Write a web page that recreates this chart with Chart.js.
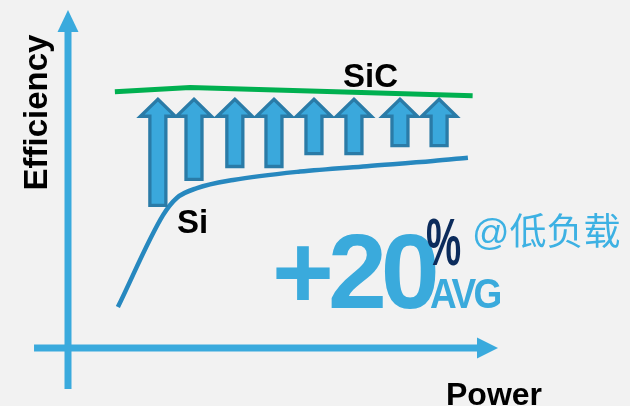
<!DOCTYPE html>
<html>
<head>
<meta charset="utf-8">
<script src="https://cdn.jsdelivr.net/npm/chart.js@4/dist/chart.umd.min.js"></script>
<style>
  html, body { margin: 0; padding: 0; background: #f2f2f2; }
  #wrap { width: 630px; height: 406px; }
</style>
</head>
<body>
<div id="wrap"><canvas id="c" width="630" height="406"></canvas></div>
<script>
// Si efficiency curve (power, efficiency)
const siPower = [11.6, 22.1, 25.3, 30.0, 38.4, 53.95, 69.5, 84.9, 93.0];
const siEff   = [12.1, 39.3, 44.4, 47.3, 49.7, 52.2, 53.8, 55.3, 56.3];
// SiC efficiency line
const sicPower = [10.9, 28.4, 94.1];
const sicEff   = [75.8, 77.1, 74.6];
// Improvement arrows: power position, from (Si level) to (below SiC)
const arrowPower = [20.9, 29.3, 38.8, 47.9, 57.2, 66.5, 77.2, 86.3];
const arrowFrom  = [42.2, 49.9, 53.7, 53.7, 57.5, 57.5, 59.9, 59.9];
const arrowTo    = [73.6, 73.6, 73.6, 73.6, 73.6, 73.6, 73.6, 73.6];
// Labels
const labels = { y: 'Efficiency', x: 'Power', sic: 'SiC', si: 'Si', gain: '+20', pct: '%', avg: 'AVG', note: '@低负载' };

const AXIS = '#3aaadd';
const FONT = '"Liberation Sans", Arial, sans-serif';

const decor = {
  id: 'decor',
  beforeDatasetsDraw(chart) {
    const ctx = chart.ctx, xs = chart.scales.x, ys = chart.scales.y;
    const x0 = xs.getPixelForValue(0), y0 = ys.getPixelForValue(0);
    const xEnd = xs.getPixelForValue(100), yEnd = ys.getPixelForValue(100);
    const xStart = xs.getPixelForValue(-7.9), yStart = ys.getPixelForValue(-12.1);
    ctx.save();
    ctx.strokeStyle = AXIS; ctx.fillStyle = AXIS; ctx.lineWidth = 7;
    // vertical axis
    ctx.beginPath(); ctx.moveTo(x0, yStart); ctx.lineTo(x0, yEnd + 21); ctx.stroke();
    ctx.beginPath(); ctx.moveTo(x0, yEnd); ctx.lineTo(x0 + 10.5, yEnd + 22); ctx.lineTo(x0 - 10.5, yEnd + 22); ctx.closePath(); ctx.fill();
    // horizontal axis
    ctx.beginPath(); ctx.moveTo(xStart, y0); ctx.lineTo(xEnd - 20, y0); ctx.stroke();
    ctx.beginPath(); ctx.moveTo(xEnd, y0); ctx.lineTo(xEnd - 21, y0 - 10.5); ctx.lineTo(xEnd - 21, y0 + 10.5); ctx.closePath(); ctx.fill();
    ctx.restore();
  },
  afterDatasetsDraw(chart) {
    const ctx = chart.ctx, xs = chart.scales.x, ys = chart.scales.y;
    ctx.save();
    ctx.fillStyle = '#3aa8dc'; ctx.strokeStyle = '#2a7ba7'; ctx.lineWidth = 3.3; ctx.lineJoin = 'miter';
    arrowPower.forEach((p, i) => {
      const cx = xs.getPixelForValue(p);
      const tip = ys.getPixelForValue(arrowTo[i]);
      const bot = ys.getPixelForValue(arrowFrom[i]);
      const hh = 17, hw = 17.5, sw = 8;
      ctx.beginPath();
      ctx.moveTo(cx, tip);
      ctx.lineTo(cx + hw, tip + hh);
      ctx.lineTo(cx + sw, tip + hh);
      ctx.lineTo(cx + sw, bot);
      ctx.lineTo(cx - sw, bot);
      ctx.lineTo(cx - sw, tip + hh);
      ctx.lineTo(cx - hw, tip + hh);
      ctx.closePath();
      ctx.fill(); ctx.stroke();
    });
    ctx.restore();
  },
  afterDraw(chart) {
    const ctx = chart.ctx;
    ctx.save();
    ctx.textBaseline = 'alphabetic';
    // axis titles
    ctx.fillStyle = '#000';
    ctx.font = 'bold 33px ' + FONT;
    ctx.save(); ctx.translate(47, 112.5); ctx.rotate(-Math.PI / 2); ctx.textAlign = 'center';
    ctx.fillText(labels.y, 0, 0); ctx.restore();
    ctx.textAlign = 'left';
    ctx.font = 'bold 32px ' + FONT;
    ctx.fillText(labels.x, 446, 405);
    // series labels
    ctx.font = 'bold 33px ' + FONT;
    ctx.fillText(labels.sic, 343, 87);
    ctx.fillText(labels.si, 177, 233);
    // +20
    ctx.fillStyle = '#3aaadc';
    ctx.font = 'bold 106px ' + FONT;
    ctx.letterSpacing = '-6px';
    ctx.fillText(labels.gain, 272, 308);
    ctx.letterSpacing = '0px';
    // %
    ctx.fillStyle = '#0c2c5c';
    ctx.save(); ctx.translate(426, 265); ctx.scale(0.6, 1);
    ctx.font = 'bold 66px ' + FONT; ctx.fillText(labels.pct, 0, 0); ctx.restore();
    // AVG
    ctx.fillStyle = '#3aaadc';
    ctx.save(); ctx.translate(430, 308); ctx.scale(0.86, 1);
    ctx.font = 'bold 43px ' + FONT; ctx.letterSpacing = '-3px'; ctx.fillText(labels.avg, 0, 0); ctx.restore();
    // note
    ctx.fillStyle = '#3db1e3';
    ctx.font = '37px "Liberation Sans", "Noto Sans CJK SC", sans-serif';
    ctx.fillText(labels.note, 472, 245);
    ctx.restore();
  }
};

new Chart(document.getElementById('c'), {
  type: 'line',
  data: {
    datasets: [
      { label: 'SiC', data: sicPower.map((p, i) => ({ x: p, y: sicEff[i] })), borderColor: '#00b050', borderWidth: 5, pointRadius: 0, tension: 0, clip: false },
      { label: 'Si', data: siPower.map((p, i) => ({ x: p, y: siEff[i] })), borderColor: '#2788bf', borderWidth: 4.5, pointRadius: 0, cubicInterpolationMode: 'monotone', clip: false }
    ]
  },
  options: {
    responsive: false,
    animation: false,
    layout: { padding: { left: 68, right: 132, top: 10, bottom: 58 } },
    scales: {
      x: { type: 'linear', min: 0, max: 100, display: false },
      y: { type: 'linear', min: 0, max: 100, display: false }
    },
    plugins: { legend: { display: false }, tooltip: { enabled: false } }
  },
  plugins: [decor]
});
</script>
</body>
</html>
